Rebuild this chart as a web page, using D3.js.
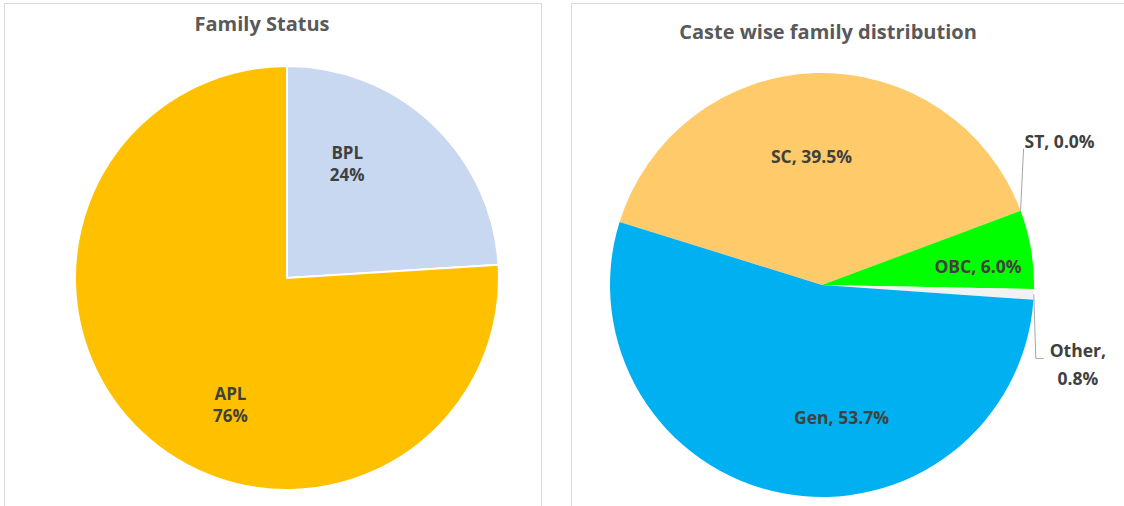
<!DOCTYPE html>
<html>
<head>
<meta charset="utf-8">
<script src="https://cdn.jsdelivr.net/npm/d3@7"></script>
<style>
  body { margin: 0; background: #fff; }
  text { font-family: "Open Sans", "Liberation Sans", sans-serif; font-weight: bold; }
</style>
</head>
<body>
<svg id="chart" width="1124" height="506"></svg>
<script>
// Family status
var statusLabels = ["BPL", "APL"];
var statusValues = [24, 76];
var statusColors = ["#C7D8F0", "#FFC000"];

// Caste wise distribution (clockwise order as drawn)
var casteLabels = ["SC", "ST", "OBC", "Other", "Gen"];
var casteValues = [39.5, 0.0, 6.0, 0.8, 53.7];
var casteColors = ["#FFCA69", "#5B9BD5", "#00FF00", "#F2F2F2", "#00B0F0"];

var svg = d3.select("#chart");
var deg = Math.PI / 180;
var labelSize = 17.5;

// panel frames
svg.append("rect").attr("x", 4.5).attr("y", 3.5).attr("width", 537).attr("height", 520)
    .attr("fill", "#fff").attr("stroke", "#D9D9D9");
svg.append("rect").attr("x", 571.5).attr("y", 3.5).attr("width", 570).attr("height", 520)
    .attr("fill", "#fff").attr("stroke", "#D9D9D9");

// titles
svg.append("text").attr("x", 262).attr("y", 31).attr("text-anchor", "middle")
    .attr("font-size", 20).attr("fill", "#595959").text("Family Status");
svg.append("text").attr("x", 828).attr("y", 39).attr("text-anchor", "middle")
    .attr("font-size", 20).attr("fill", "#595959").text("Caste wise family distribution");

var r = 212;

// polar helper: angle clockwise from 12 o'clock
function polar(a, d) { return [d * Math.sin(a), -d * Math.cos(a)]; }
function mid(d) { return (d.startAngle + d.endAngle) / 2; }

// ---- left pie
var pie1 = d3.pie().sort(null).value(function(d) { return d; });
var arc1 = d3.arc().innerRadius(0).outerRadius(r);
var g1 = svg.append("g").attr("transform", "translate(287,278)");
var arcs1 = pie1(statusValues);

g1.selectAll("path")
    .data(arcs1)
  .enter().append("path")
    .attr("d", arc1)
    .attr("fill", function(d, i) { return statusColors[i]; })
    .attr("stroke", "#fff")
    .attr("stroke-width", 2);

// label placement: shift from slice middle, distance from centre
var place1 = [{ shift: -15.6, dist: 130 }, { shift: -19, dist: 138 }];
arcs1.forEach(function(d, i) {
  var c = polar(mid(d) + place1[i].shift * deg, place1[i].dist);
  // two separate lines, like the stacked Excel labels
  g1.append("text")
    .attr("x", c[0]).attr("y", c[1] - 4)
    .attr("text-anchor", "middle")
    .attr("font-size", 17).attr("fill", "#404040")
    .text(statusLabels[i]);
  g1.append("text")
    .attr("x", c[0]).attr("y", c[1] + 18)
    .attr("text-anchor", "middle")
    .attr("font-size", 17).attr("fill", "#404040")
    .text(d.value + "%");
});

// ---- right pie
var start = -72.7 * deg;
var pie2 = d3.pie().sort(null).value(function(d) { return d; })
    .startAngle(start).endAngle(start + 2 * Math.PI);
var arc2 = d3.arc().innerRadius(0).outerRadius(r);
var g2 = svg.append("g").attr("transform", "translate(822,285)");
var arcs2 = pie2(casteValues);

g2.selectAll("path")
    .data(arcs2)
  .enter().append("path")
    .attr("d", arc2)
    .attr("fill", function(d, i) { return casteColors[i]; });

function fmt(v) { return d3.format(".1f")(v) + "%"; }

// inside labels (SC, OBC, Gen)
var place2 = { 0: { shift: -3.1, dist: 129 }, 2: { shift: 3.1, dist: 157 }, 4: { shift: -19, dist: 134 } };
arcs2.forEach(function(d, i) {
  if (!place2[i]) return;
  var c = polar(mid(d) + place2[i].shift * deg, place2[i].dist);
  g2.append("text")
    .attr("x", c[0]).attr("y", c[1]).attr("dy", "0.35em")
    .attr("text-anchor", "middle")
    .attr("font-size", labelSize).attr("fill", "#404040")
    .text(casteLabels[i] + ", " + fmt(casteValues[i]));
});

// outside labels with leader lines (ST, Other)
var st = polar(arcs2[1].startAngle, r);
g2.append("path")
    .attr("d", d3.line()([st, [st[0] + 3, st[1] - 62]]))
    .attr("fill", "none").attr("stroke", "#A6A6A6");
g2.append("text").attr("x", st[0] + 4).attr("y", st[1] - 63)
    .attr("font-size", labelSize).attr("fill", "#404040")
    .text(casteLabels[1] + ", " + fmt(casteValues[1]));

var ot = polar(mid(arcs2[3]), r);
g2.append("path")
    .attr("d", d3.line()([ot, [ot[0] + 2, ot[1] + 64], [ot[0] + 10, ot[1] + 64]]))
    .attr("fill", "none").attr("stroke", "#A6A6A6");
g2.append("text").attr("text-anchor", "middle")
    .attr("x", ot[0] + 44).attr("y", ot[1] + 63)
    .attr("font-size", labelSize).attr("fill", "#404040")
    .text(casteLabels[3] + ",");
g2.append("text").attr("text-anchor", "middle")
    .attr("x", ot[0] + 44).attr("y", ot[1] + 91)
    .attr("font-size", labelSize).attr("fill", "#404040")
    .text(fmt(casteValues[3]));
</script>
</body>
</html>
